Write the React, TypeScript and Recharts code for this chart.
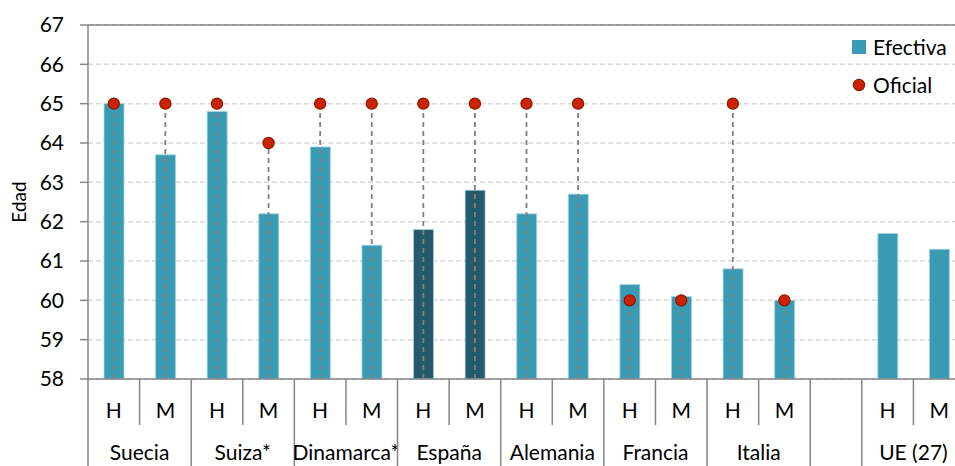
import React from 'react';
import {
  ComposedChart,
  Bar,
  Scatter,
  ErrorBar,
  XAxis,
  YAxis,
  CartesianGrid,
  ReferenceLine,
  Cell,
} from 'recharts';

// one slot per bar; 'gap' is the empty slot before UE (27)
const categories = [
  'Suecia-H', 'Suecia-M', 'Suiza-H', 'Suiza-M', 'Dinamarca-H', 'Dinamarca-M',
  'España-H', 'España-M', 'Alemania-H', 'Alemania-M', 'Francia-H', 'Francia-M',
  'Italia-H', 'Italia-M', 'gap', 'UE-H', 'UE-M',
];
const sexLabels = ['H', 'M', 'H', 'M', 'H', 'M', 'H', 'M', 'H', 'M', 'H', 'M', 'H', 'M', '', 'H', 'M'];
const groupLabels = ['Suecia', 'Suiza*', 'Dinamarca*', 'España', 'Alemania', 'Francia', 'Italia', '', 'UE (27)'];
const efectiva = [65.0, 63.7, 64.8, 62.2, 63.9, 61.4, 61.8, 62.8, 62.2, 62.7, 60.4, 60.1, 60.8, 60.0, null, 61.7, 61.3];
const oficial = [65, 65, 65, 64, 65, 65, 65, 65, 65, 65, 60, 60, 65, 60, null, null, null];
const yTicks = [58, 59, 60, 61, 62, 63, 64, 65, 66, 67];

const Y_MIN = 58;
const TEAL = '#3a9bb5';
const DARK = '#245a6b';
const AXIS = '#868686';
const FONT = 21;

const data = categories.map((key, i) => ({
  key,
  efectiva: efectiva[i],
  oficial: oficial[i],
  highlight: key.startsWith('España'),
}));

// drop line from each official age down to the axis
const scatterData = data
  .filter((d) => d.oficial != null)
  .map((d) => ({ key: d.key, oficial: d.oficial, drop: [(d.oficial as number) - Y_MIN, 0] }));

const CHART_W = 975;
const CHART_H = 466;
const MARGIN = { top: 25, right: 10, left: 0, bottom: 0 };
const Y_AXIS_W = 88;
const SLOT = (CHART_W - MARGIN.left - MARGIN.right - Y_AXIS_W) / categories.length;

const groupOf = (i: number) => (i < 14 ? Math.floor(i / 2) : i === 14 ? 7 : 8);

const CategoryTick = (props: any) => {
  const { x, y, payload } = props;
  const i = payload.index;
  const g = groupOf(i);
  const next = i + 1 < categories.length ? groupOf(i + 1) : -1;
  const boundary = next !== g;
  const isFirstOfGroup = i === 0 || groupOf(i - 1) !== g;
  return (
    <g>
      {i === 0 && (
        <line x1={x - SLOT / 2} x2={x - SLOT / 2} y1={y} y2={y + 100} stroke={AXIS} strokeWidth={1.5} />
      )}
      <line
        x1={x + SLOT / 2}
        x2={x + SLOT / 2}
        y1={y}
        y2={boundary ? y + 100 : y + 46}
        stroke={AXIS}
        strokeWidth={1.5}
      />
      <text x={x} y={y + 30} textAnchor="middle" dominantBaseline="central" fontSize={FONT} fill="#000">
        {sexLabels[i]}
      </text>
      {isFirstOfGroup && groupLabels[g] && (
        <text x={x + SLOT / 2} y={y + 72} textAnchor="middle" dominantBaseline="central" fontSize={FONT} fill="#000">
          {groupLabels[g]}
        </text>
      )}
    </g>
  );
};

const OficialDot = (props: any) => {
  const { cx, cy } = props;
  if (cx == null || cy == null) return <g />;
  return <circle cx={cx} cy={cy} r={5.6} fill="#cc2200" stroke="#8a1a00" strokeWidth={1.2} />;
};

const EdadLabel = (props: any) => {
  const { viewBox } = props;
  const cy = viewBox.y + viewBox.height / 2;
  return (
    <text
      x={18}
      y={cy}
      transform={`rotate(-90, 18, ${cy})`}
      textAnchor="middle"
      dominantBaseline="central"
      fontSize={19}
      fill="#000"
    >
      Edad
    </text>
  );
};

const LegendBox = () => (
  <div
    style={{
      position: 'absolute',
      left: 852,
      top: 28,
      fontSize: FONT,
      color: '#000',
      lineHeight: '38px',
    }}
  >
    <div style={{ display: 'flex', alignItems: 'center' }}>
      <span style={{ width: 14, height: 14, background: TEAL, display: 'inline-block', marginRight: 7 }} />
      Efectiva
    </div>
    <div style={{ display: 'flex', alignItems: 'center' }}>
      <svg width={14} height={14} style={{ marginRight: 7 }}>
        <circle cx={7} cy={7} r={5.6} fill="#cc2200" stroke="#8a1a00" strokeWidth={1.2} />
      </svg>
      Oficial
    </div>
  </div>
);

export default function App() {
  return (
    <div
      style={{
        position: 'fixed',
        left: 0,
        top: 0,
        width: 955,
        height: 466,
        overflow: 'hidden',
        background: '#fff',
        fontFamily: 'Lato, "Open Sans", sans-serif',
      }}
    >
      <ComposedChart width={CHART_W} height={CHART_H} data={data} margin={MARGIN}>
        <CartesianGrid vertical={false} stroke="#d9d9d9" strokeDasharray="5 3" strokeWidth={1.5} />
        <XAxis
          dataKey="key"
          type="category"
          allowDuplicatedCategory={false}
          interval={0}
          height={CHART_H - MARGIN.top - 354}
          tickLine={false}
          tickSize={0}
          tickMargin={0}
          axisLine={{ stroke: AXIS, strokeWidth: 1.5 }}
          tick={<CategoryTick />}
        />
        <YAxis
          domain={[58, 67]}
          ticks={yTicks}
          interval={0}
          width={Y_AXIS_W}
          tickSize={8}
          tickMargin={16}
          axisLine={{ stroke: AXIS, strokeWidth: 1.5 }}
          tickLine={{ stroke: AXIS, strokeWidth: 1.5 }}
          tick={{ fontSize: FONT, fill: '#000' }}
          label={<EdadLabel />}
        />
        <ReferenceLine y={67} stroke={AXIS} strokeWidth={1.5} />
        <Bar dataKey="efectiva" barSize={20} isAnimationActive={false}>
          {data.map((d) => (
            <Cell key={d.key} fill={d.highlight ? DARK : TEAL} stroke="#a9d6e3" strokeWidth={0.8} />
          ))}
        </Bar>
        <Scatter data={scatterData} dataKey="oficial" shape={<OficialDot />} isAnimationActive={false}>
          <ErrorBar
            dataKey="drop"
            direction="y"
            width={0}
            stroke="#808080"
            strokeWidth={1.8}
            strokeDasharray="5 4"
            isAnimationActive={false}
          />
        </Scatter>
      </ComposedChart>
      <LegendBox />
    </div>
  );
}
